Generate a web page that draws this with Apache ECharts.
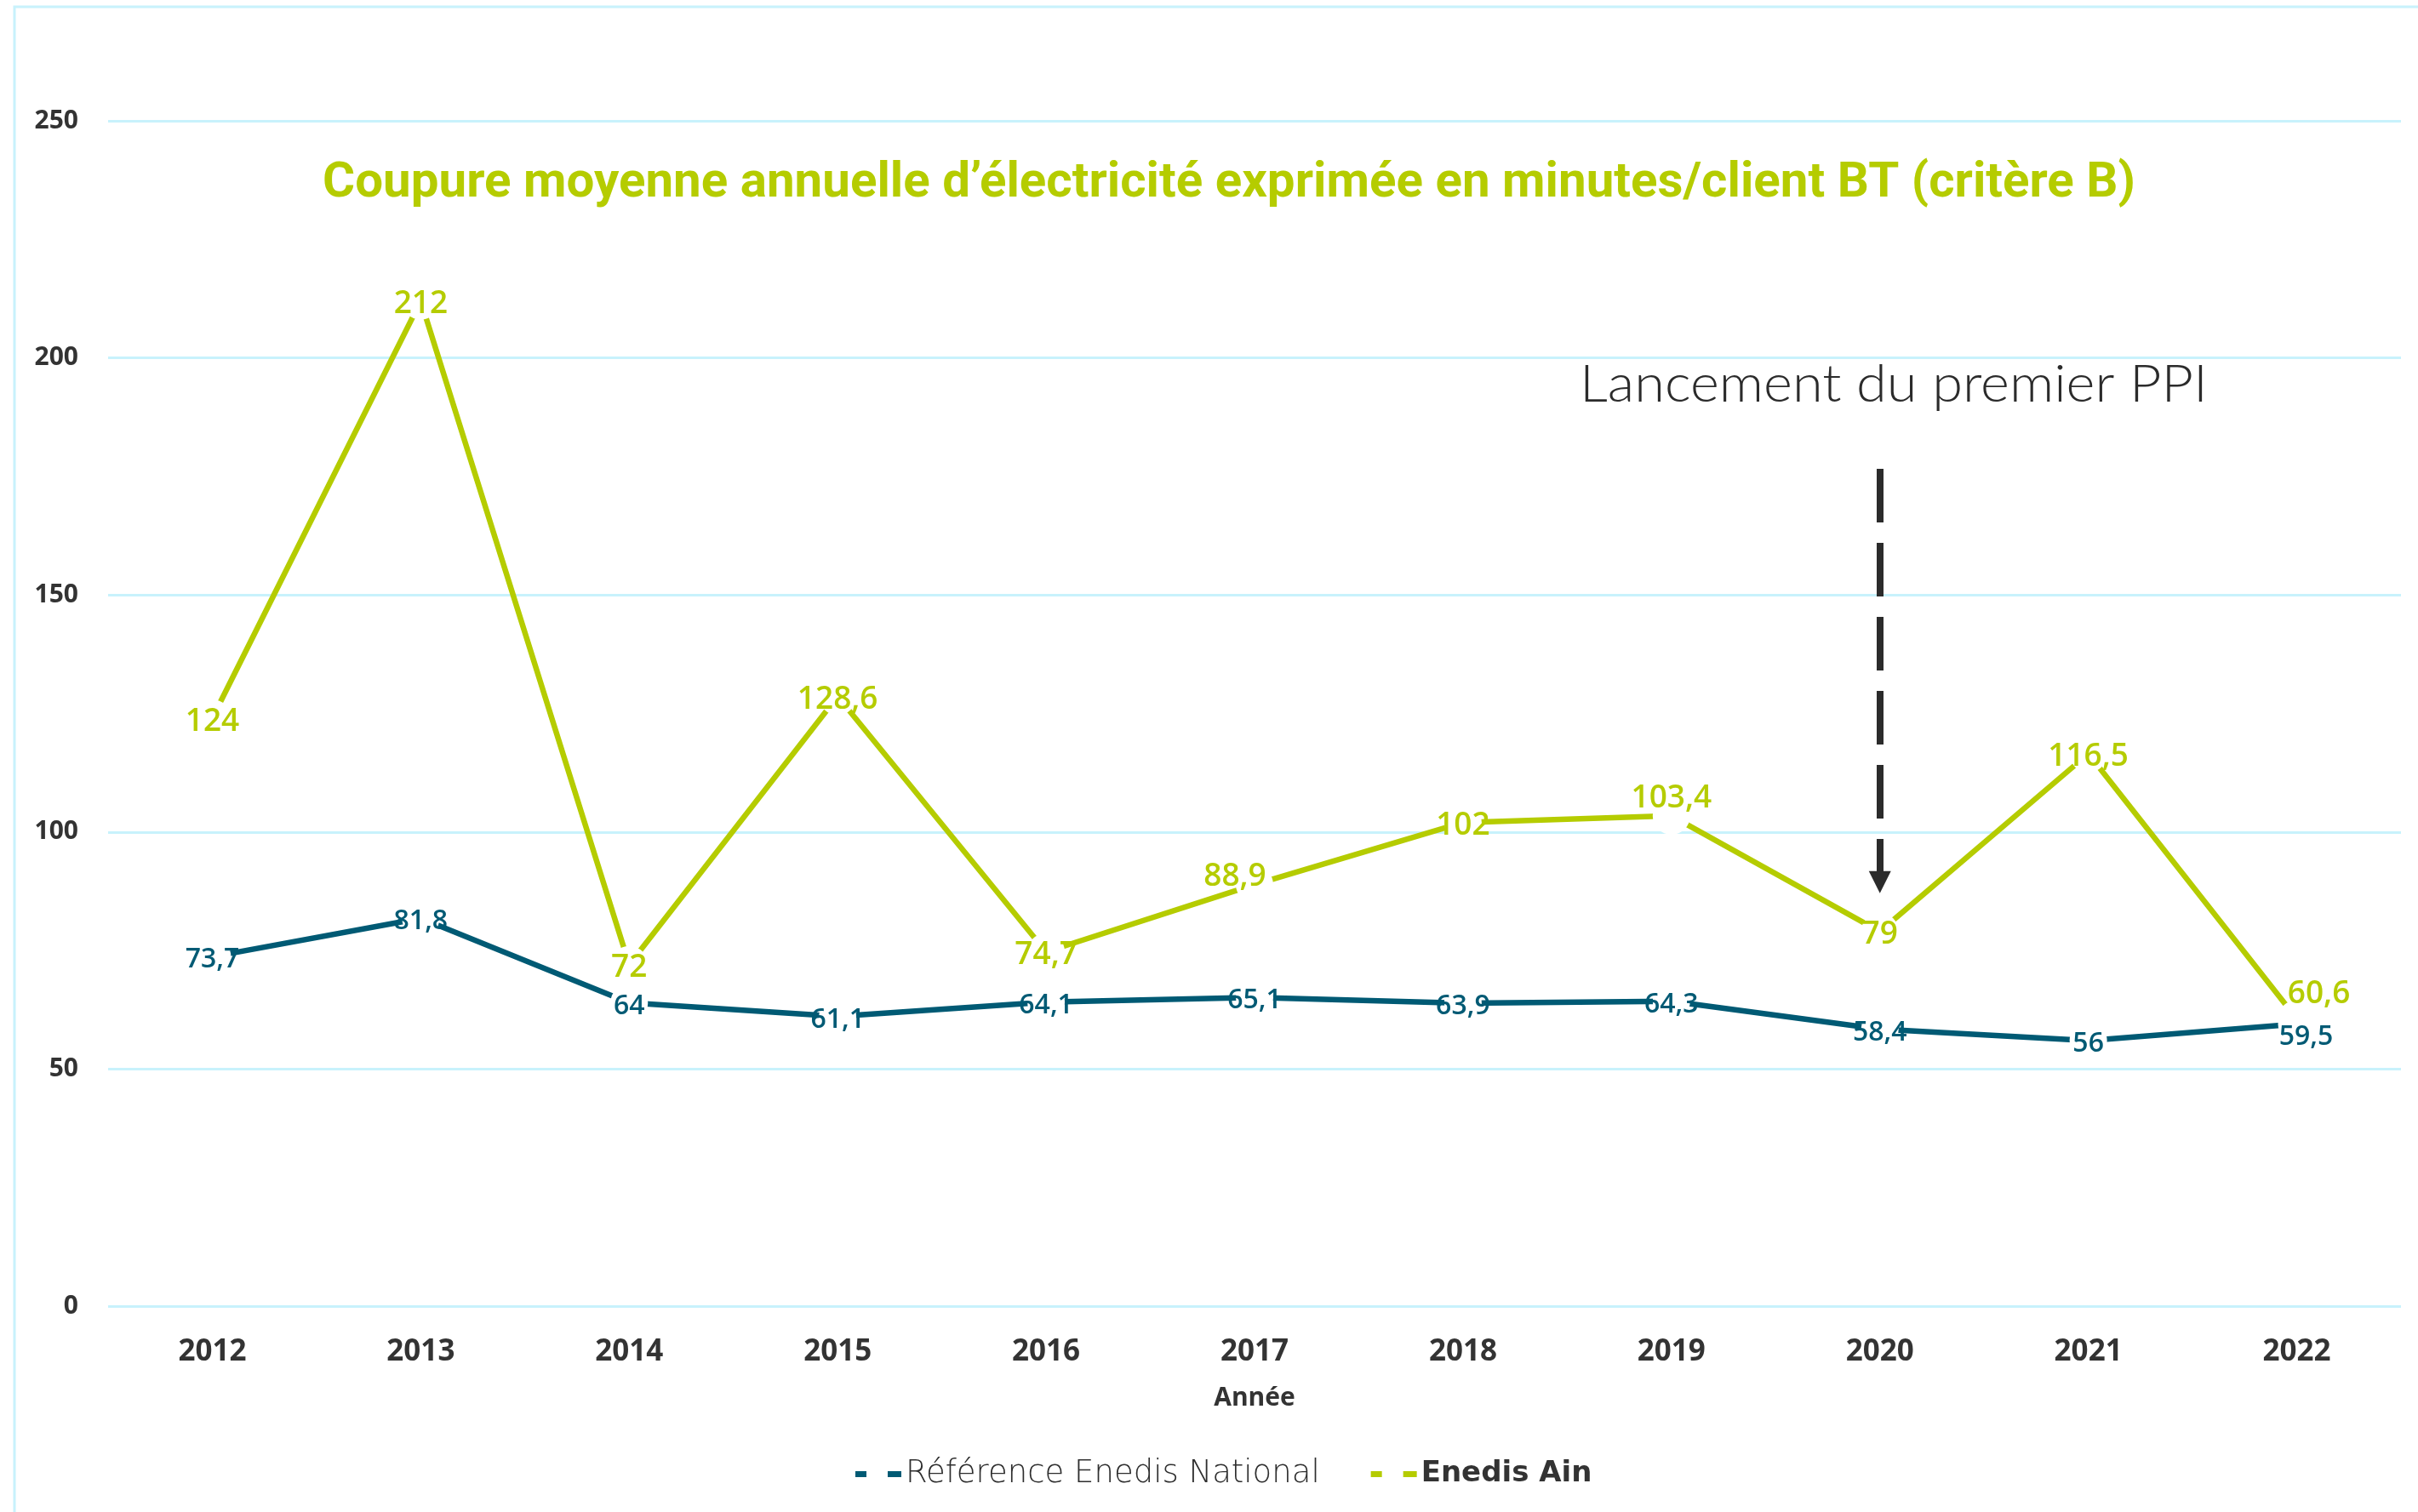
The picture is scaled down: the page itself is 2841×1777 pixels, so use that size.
<!DOCTYPE html>
<html>
<head>
<meta charset="utf-8">
<script src="https://cdn.jsdelivr.net/npm/echarts@6/dist/echarts.min.js"></script>
<style>
html,body{margin:0;padding:0;background:#ffffff;}
#chart{width:2841px;height:1777px;}
</style>
</head>
<body>
<div id="chart"></div>
<script>
// ---- data ----
const years = ['2012','2013','2014','2015','2016','2017','2018','2019','2020','2021','2022'];
const nationalValues = [73.7, 81.8, 64, 61.1, 64.1, 65.1, 63.9, 64.3, 58.4, 56, 59.5];
const ainValues = [124, 212, 72, 128.6, 74.7, 88.9, 102, 103.4, 79, 116.5, 60.6];
const yTicks = [0, 50, 100, 150, 200, 250];
const seriesNames = ['Référence Enedis National', 'Enedis Ain'];
const titleText = 'Coupure moyenne annuelle d’électricité exprimée en minutes/client BT (critère B)';
const axisName = 'Année';
const annotationText = 'Lancement du premier PPI';
const arrowYear = '2020';
const arrowFromTo = [176.6, 89.4];

// ---- styles ----
const LIME = '#b5cc00';
const TEAL = '#005a74';
const DARK = '#333333';
const GRIDC = '#c8f2fc';
const BASE_OFF = [0, 4];
const nudgeNational = {10: [11, 15]};
const nudgeAin = {5: [-23, -9], 7: [0, -20], 10: [26, -29]};

const fmt = p => String(p.value).replace('.', ',');

function build(values, nudge) {
  return values.map((v, i) => nudge[i] ? {value: v, label: {offset: nudge[i]}} : {value: v});
}

function fitScale(text, font, target) {
  const c = document.createElement('canvas').getContext('2d');
  c.font = font;
  const w = c.measureText(text).width;
  return w > 0 ? target / w : 1;
}
const TITLE_FONT_FAMILY = 'Roboto';
const titleScale = fitScale(titleText, 'bold 58px ' + TITLE_FONT_FAMILY, 2130);
const annotScale = fitScale(annotationText, '300 62px Lato', 738);

const chart = echarts.init(document.getElementById('chart'), null, {renderer: 'canvas'});
chart.setOption({
  animation: false,
  backgroundColor: '#ffffff',
  grid: {left: 127, right: 20, top: 142, bottom: 242, containLabel: false},
  xAxis: {
    type: 'category',
    data: years,
    boundaryGap: true,
    axisLine: {show: false},
    axisTick: {show: false},
    axisLabel: {color: DARK, fontFamily: 'Open Sans', fontWeight: 'bold', fontSize: 35, margin: 37},
    name: axisName,
    nameLocation: 'middle',
    nameGap: 93,
    nameTextStyle: {color: DARK, fontFamily: 'Open Sans', fontWeight: 'bold', fontSize: 30}
  },
  yAxis: {
    type: 'value',
    min: yTicks[0],
    max: yTicks[yTicks.length - 1],
    interval: yTicks[1] - yTicks[0],
    axisLine: {show: false},
    axisTick: {show: false},
    axisLabel: {color: DARK, fontFamily: 'Open Sans', fontWeight: 'bold', fontSize: 30, margin: 35},
    splitLine: {show: true, lineStyle: {color: GRIDC, width: 3}}
  },
  legend: {
    left: 1000,
    top: 1709,
    itemWidth: 54,
    itemHeight: 7,
    itemGap: 60,
    icon: 'path://M0,0h13v7h-13z M38,0h16v7h-16z',
    data: [
      {name: seriesNames[0], itemStyle: {color: TEAL, borderWidth: 0},
       textStyle: {color: '#2e2e2e', fontFamily: 'DejaVu Sans', fontWeight: 200, fontSize: 37}},
      {name: seriesNames[1], itemStyle: {color: LIME, borderWidth: 0},
       textStyle: {color: DARK, fontFamily: 'DejaVu Sans', fontWeight: 'bold', fontSize: 34}}
    ]
  },
  series: [
    {
      name: seriesNames[1],
      type: 'line',
      data: build(ainValues, nudgeAin),
      symbol: 'circle',
      symbolSize: 44,
      itemStyle: {color: '#ffffff', borderWidth: 0},
      lineStyle: {color: LIME, width: 6.5},
      label: {show: true, position: 'inside', formatter: fmt, color: LIME, offset: BASE_OFF,
              fontFamily: 'Open Sans', fontWeight: 600, fontSize: 37},
      emphasis: {disabled: true},
      z: 2,
      markLine: {
        silent: true,
        animation: false,
        symbol: ['none', 'triangle'],
        symbolSize: 26,
        label: {show: false},
        lineStyle: {color: '#2b2b2b', width: 8, type: [63, 24], opacity: 1},
        itemStyle: {color: '#2b2b2b'},
        emphasis: {disabled: true},
        data: [[{coord: [arrowYear, arrowFromTo[0]]}, {coord: [arrowYear, arrowFromTo[1]]}]]
      }
    },
    {
      name: seriesNames[0],
      type: 'line',
      data: build(nationalValues, nudgeNational),
      symbol: 'circle',
      symbolSize: 44,
      itemStyle: {color: '#ffffff', borderWidth: 0},
      lineStyle: {color: TEAL, width: 6.5},
      label: {show: true, position: 'inside', formatter: fmt, color: TEAL, offset: BASE_OFF,
              fontFamily: 'Open Sans', fontWeight: 600, fontSize: 32},
      emphasis: {disabled: true},
      z: 3
    }
  ],
  graphic: [
    {type: 'rect', silent: true, z: -10,
     shape: {x: 17, y: 8, width: 2900, height: 1900},
     style: {fill: null, stroke: GRIDC, lineWidth: 3}},
    {type: 'text', silent: true, x: 1444, y: 216, scaleX: titleScale,
     style: {text: titleText, fill: LIME, fontFamily: TITLE_FONT_FAMILY, fontWeight: 'bold',
             fontSize: 58, align: 'center', verticalAlign: 'middle'}},
    {type: 'text', silent: true, x: 2225, y: 452, scaleX: annotScale,
     style: {text: annotationText, fill: '#2b2b2b', fontFamily: 'Lato', fontWeight: 300,
             fontSize: 62, align: 'center', verticalAlign: 'middle'}}
  ]
});
</script>
</body>
</html>
